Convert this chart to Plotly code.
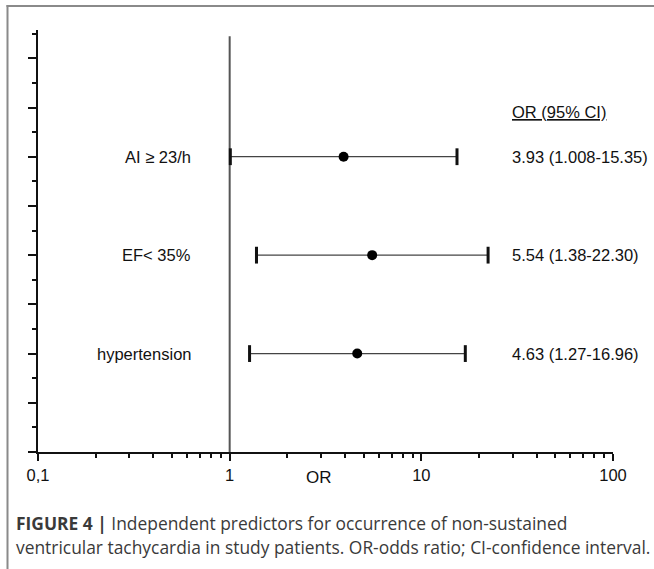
import plotly.graph_objects as go

# ---- data ----
labels = ["AI ≥ 23/h", "EF< 35%", "hypertension"]
odds_ratio = [3.93, 5.54, 4.63]
ci_lower = [1.008, 1.38, 1.27]
ci_upper = [15.35, 22.30, 16.96]
ci_text = ["3.93 (1.008-15.35)", "5.54 (1.38-22.30)", "4.63 (1.27-16.96)"]
x_tickvals = [0.1, 1, 10, 100]
x_ticktext = ["0,1", "1", "10", "100"]
x_minor = [0.2, 0.3, 0.4, 0.5, 0.6, 0.7, 0.8, 0.9,
           2, 3, 4, 5, 6, 7, 8, 9,
           20, 30, 40, 50, 60, 70, 80, 90]

n = len(labels)
row_y = [4 * (n - i) for i in range(n)]

FONT = "Liberation Sans, Arial, sans-serif"
CAP_FONT = "Open Sans, Liberation Sans, sans-serif"
W, H = 654, 569
L, R, T, B = 38, 41, 30, 117
PW, PH = W - L - R, H - T - B


def px_x(px):
    return (px - L) / PW


def px_y(py):
    return (H - B - py) / PH


fig = go.Figure()

# reference line at OR = 1
fig.add_trace(go.Scatter(x=[1, 1], y=[0, 16.9], mode="lines",
                         line=dict(color="#555555", width=2),
                         hoverinfo="skip", showlegend=False))

# whiskers
wx, wy = [], []
for lo, hi, y in zip(ci_lower, ci_upper, row_y):
    wx += [lo, hi, None]
    wy += [y, y, None]
fig.add_trace(go.Scatter(x=wx, y=wy, mode="lines",
                         line=dict(color="#444444", width=1.2),
                         hoverinfo="skip", showlegend=False))

# caps
fig.add_trace(go.Scatter(x=ci_lower + ci_upper, y=row_y + row_y, mode="markers",
                         marker=dict(symbol="line-ns", size=12,
                                     line=dict(color="#111111", width=3)),
                         hoverinfo="skip", showlegend=False))

# points
fig.add_trace(go.Scatter(x=odds_ratio, y=row_y, mode="markers",
                         marker=dict(symbol="circle", size=10, color="#000000"),
                         showlegend=False))

annotations = []
for lab, txt, y in zip(labels, ci_text, row_y):
    annotations.append(dict(text=lab, xref="paper", yref="y", x=px_x(193), y=y,
                            xanchor="right", yanchor="middle", showarrow=False,
                            font=dict(family=FONT, size=16.5, color="#111111")))
    annotations.append(dict(text=txt, xref="paper", yref="y", x=px_x(510), y=y,
                            xanchor="left", yanchor="middle", showarrow=False,
                            font=dict(family=FONT, size=16.5, color="#111111")))

annotations.append(dict(text="<u>OR (95% CI)</u>", xref="paper", yref="y",
                        x=px_x(510), y=13.8, xanchor="left", yanchor="middle",
                        showarrow=False,
                        font=dict(family=FONT, size=16.5, color="#111111")))

annotations.append(dict(text="OR", xref="paper", yref="paper",
                        x=px_x(319), y=px_y(477), xanchor="center", yanchor="middle",
                        showarrow=False,
                        font=dict(family=FONT, size=17, color="#111111")))

annotations.append(dict(text="<b>FIGURE 4 |</b> Independent predictors for occurrence of non-sustained",
                        xref="paper", yref="paper", x=px_x(14), y=px_y(523),
                        xanchor="left", yanchor="middle", showarrow=False,
                        font=dict(family=CAP_FONT, size=17.4, color="#3a3a3a")))
annotations.append(dict(text="ventricular tachycardia in study patients. OR-odds ratio; CI-confidence interval.",
                        xref="paper", yref="paper", x=px_x(14), y=px_y(547),
                        xanchor="left", yanchor="middle", showarrow=False,
                        font=dict(family=CAP_FONT, size=17.4, color="#3a3a3a")))

shapes = [
    dict(type="line", xref="paper", yref="paper",
         x0=px_x(7.5), x1=px_x(7.5), y0=px_y(5), y1=px_y(H + 2),
         line=dict(color="#8a8a8a", width=2)),
    dict(type="line", xref="paper", yref="paper",
         x0=px_x(6.5), x1=px_x(W + 2), y0=px_y(6), y1=px_y(6),
         line=dict(color="#8a8a8a", width=2)),
]

fig.update_layout(
    width=W, height=H, autosize=False,
    margin=dict(l=L, r=R, t=T, b=B, pad=0),
    paper_bgcolor="white", plot_bgcolor="white",
    showlegend=False,
    annotations=annotations,
    shapes=shapes,
    xaxis=dict(type="log", range=[-1, 2], showgrid=False, zeroline=False,
               showline=True, linecolor="#111111", linewidth=2,
               tickmode="array", tickvals=x_tickvals, ticktext=x_ticktext,
               ticks="outside", ticklen=7, tickwidth=2, tickcolor="#111111",
               tickfont=dict(family=FONT, size=16.5, color="#111111"),
               minor=dict(tickmode="array", tickvals=x_minor, ticks="outside",
                          ticklen=4, tickwidth=2, tickcolor="#111111")),
    yaxis=dict(range=[0, 17.15], showgrid=False, zeroline=False,
               showline=True, linecolor="#111111", linewidth=2,
               tickmode="array", tickvals=list(range(0, 17, 2)),
               showticklabels=False,
               ticks="outside", ticklen=8, tickwidth=2, tickcolor="#111111",
               minor=dict(tickmode="array", tickvals=list(range(1, 18, 2)),
                          ticks="outside", ticklen=4, tickwidth=2,
                          tickcolor="#111111")),
)

fig.write_html("out.html",
               config={"displayModeBar": False},
               post_script="document.body.style.margin='0px';"
                           "document.body.style.overflow='hidden';")
